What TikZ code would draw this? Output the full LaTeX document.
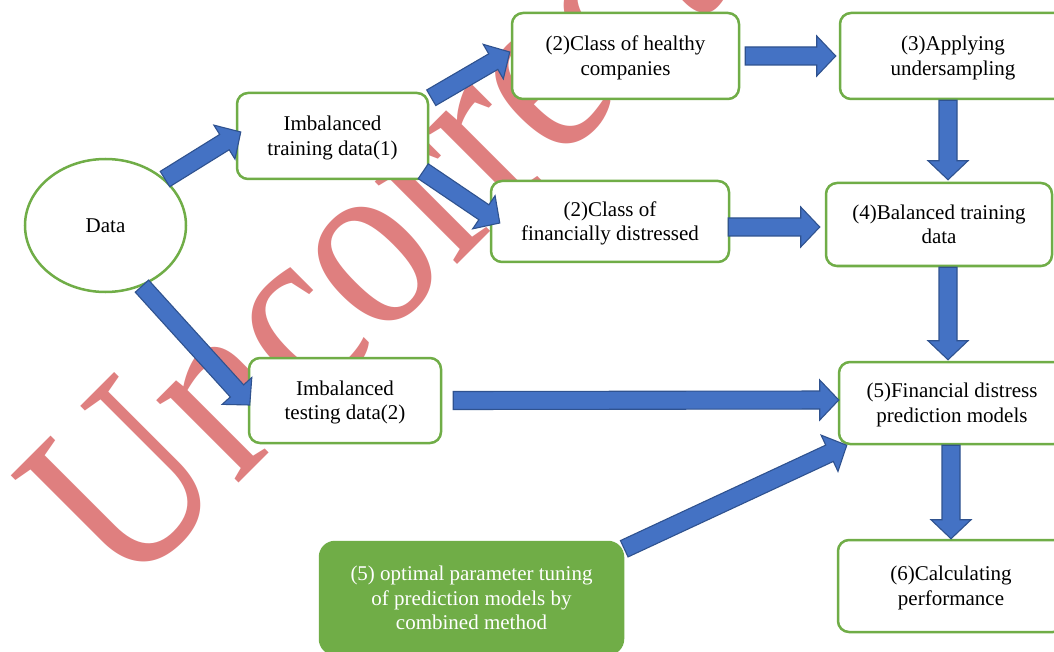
\documentclass[tikz,border=0pt]{standalone}
\usepackage{fontspec}
\setmainfont{Liberation Serif}
\newfontfamily\wmfont{Liberation Serif}
\usetikzlibrary{calc,shapes.geometric}
\definecolor{boxgreen}{HTML}{70AD47}
\definecolor{arrowblue}{HTML}{4472C4}
\definecolor{arrowedge}{HTML}{2F528F}
\definecolor{wmred}{RGB}{223,127,127}
\begin{document}
\begin{tikzpicture}[x=1pt,y=-1pt,
  box/.style={draw=boxgreen, line width=2.5pt, rounded corners=11pt, fill=white,
    align=center, inner sep=0pt, text height=38.5pt, text depth=0pt,
    font=\fontsize{21}{24.5}\selectfont},
  datanode/.style={ellipse, draw=boxgreen, line width=2.5pt, fill=white,
    inner sep=0pt, font=\fontsize{21}{24.5}\selectfont},
  tuning/.style={box, draw=boxgreen, fill=boxgreen, text=white, text height=63pt, text depth=0pt, rounded corners=15pt},
  watermark/.style={text=wmred, inner sep=0pt, anchor=base west,
    font=\wmfont\fontsize{215}{215}\selectfont},
  blockarrow/.style={fill=arrowblue, draw=arrowedge, line width=1.1pt, line join=miter,
    to path={let \p1=(\tikztostart), \p2=(\tikztotarget),
      \n1={atan2(\y2-\y1,\x2-\x1)}, \n2={veclen(\x2-\x1,\y2-\y1)} in
      ($(\p1)+({\n1+90}:9pt)$)
      -- ($(\p1)+({\n1}:{\n2-19pt})+({\n1+90}:9pt)$)
      -- ($(\p1)+({\n1}:{\n2-19pt})+({\n1+90}:20pt)$)
      -- (\p2)
      -- ($(\p1)+({\n1}:{\n2-19pt})+({\n1-90}:20pt)$)
      -- ($(\p1)+({\n1}:{\n2-19pt})+({\n1-90}:9pt)$)
      -- ($(\p1)+({\n1-90}:9pt)$) -- cycle}}
]
\useasboundingbox (0,0) rectangle (1054,652);
\clip (0,0) rectangle (1054,652);
\fill[white] (0,0) rectangle (1054,652);

% watermark
\begin{scope}[shift={(125.5,596.5)}]
  \node[watermark, rotate=45, yscale=1.18, transform shape] (wm) at (0,0) {Uncorrected};
\end{scope}

% nodes
\node[datanode, minimum width=161pt, minimum height=133pt] (data) at (105.5,225.5) {Data};
\node[box, minimum width=191pt, minimum height=86pt] (train) at (332.5,136) {Imbalanced\\training data(1)};
\node[box, minimum width=227pt, minimum height=86pt] (healthy) at (625.5,56) {(2)Class of healthy\\companies};
\node[box, minimum width=226pt, minimum height=86pt] (apply) at (953,56) {(3)Applying\\undersampling};
\node[box, minimum width=238pt, minimum height=81pt] (distressed) at (610,221.5) {(2)Class of\\financially distressed};
\node[box, minimum width=226pt, minimum height=83pt] (balanced) at (939,224.5) {(4)Balanced training\\data};
\node[box, minimum width=192pt, minimum height=85pt] (testing) at (345,400.5) {Imbalanced\\testing data(2)};
\node[box, minimum width=226pt, minimum height=82pt] (financial) at (952,403) {(5)Financial distress\\prediction models};
\node[box, minimum width=226pt, minimum height=92pt] (perf) at (951,586) {(6)Calculating\\performance};
\node[tuning, minimum width=303pt, minimum height=112pt] (optimal) at (471.5,598) {(5) optimal parameter tuning\\of prediction models by\\combined method};

% arrows
\draw[blockarrow] (data.38) to ([xshift=5pt,yshift=4pt]train.west);
\draw[blockarrow] ([xshift=2pt,yshift=-6pt]train.north east) to ([xshift=-1pt,yshift=4pt]healthy.west);
\draw[blockarrow] ([xshift=-6pt,yshift=9pt]train.south east) to ([xshift=10pt,yshift=-1.5pt]distressed.west);
\draw[blockarrow] ([xshift=5pt]healthy.east) to ([xshift=-3pt]apply.west);
\draw[blockarrow] ([xshift=-2pt,yshift=-5.5pt]distressed.east) to ([xshift=-5pt,yshift=-2.5pt]balanced.west);
\draw[blockarrow] ([xshift=-5pt]apply.south) to ([xshift=9pt,yshift=2pt]balanced.north);
\draw[blockarrow] ([xshift=9pt]balanced.south) to ([xshift=-4pt,yshift=1pt]financial.north);
\draw[blockarrow] ([xshift=-1pt]financial.south) to (perf.north);
\draw[blockarrow] ([xshift=11pt]testing.east) to ([xshift=1pt,yshift=3pt]financial.west);
\draw[blockarrow] (data.-59) to ([xshift=2pt,yshift=-4.5pt]testing.west);
\draw[blockarrow] ([yshift=-8pt]optimal.north east) to ([xshift=9pt]financial.south west);
\end{tikzpicture}
\end{document}
